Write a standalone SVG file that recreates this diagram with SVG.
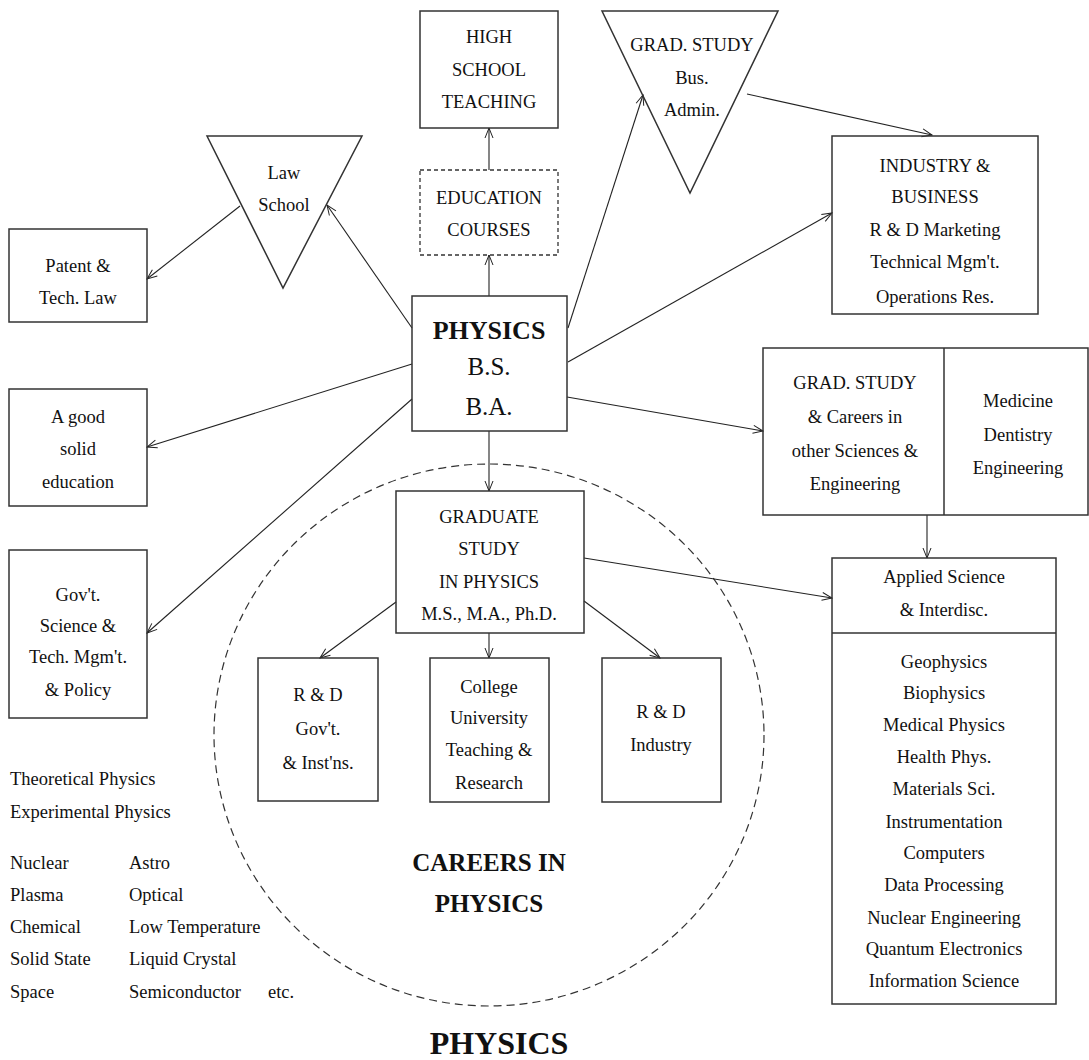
<svg xmlns="http://www.w3.org/2000/svg" width="1089" height="1060" viewBox="0 0 1089 1060">
<defs>
<marker id="arr" markerWidth="12" markerHeight="10" refX="11" refY="5" orient="auto" markerUnits="userSpaceOnUse">
<path d="M1,1 L11,5 L1,9" fill="none" stroke="#222" stroke-width="1"/>
</marker>
<style>
text{font-family:"Liberation Serif","Times New Roman",serif;font-size:18.5px;fill:#111;text-anchor:middle}
.box{fill:none;stroke:#333;stroke-width:1.5}
.dash{fill:none;stroke:#333;stroke-width:1.3;stroke-dasharray:4,3}
.circ{fill:none;stroke:#333;stroke-width:1.2;stroke-dasharray:8,5}
.conn line{stroke:#222;stroke-width:1.1;marker-end:url(#arr)}
.l{text-anchor:start}
.big{font-weight:bold;font-size:26px}
</style>
</defs>
<rect width="1089" height="1060" fill="#fff"/>

<ellipse class="circ" cx="489" cy="735" rx="275" ry="271"/>

<g class="conn" id="connectors">
<line x1="412" y1="328" x2="327" y2="205"/>
<line x1="240" y1="206" x2="147" y2="279"/>
<line x1="489" y1="296" x2="489" y2="255"/>
<line x1="489" y1="170" x2="489" y2="128"/>
<line x1="568" y1="328" x2="643" y2="95"/>
<line x1="747" y1="94" x2="932" y2="135"/>
<line x1="568" y1="362" x2="832" y2="213"/>
<line x1="567" y1="397" x2="763" y2="431"/>
<line x1="927" y1="515" x2="927" y2="558"/>
<line x1="412" y1="364" x2="147" y2="447"/>
<line x1="412" y1="399" x2="147" y2="633"/>
<line x1="489" y1="431" x2="489" y2="491"/>
<line x1="584" y1="558" x2="832" y2="598"/>
<line x1="396" y1="602" x2="320" y2="658"/>
<line x1="489" y1="633" x2="489" y2="658"/>
<line x1="584" y1="601" x2="660" y2="658"/>
</g>

<g id="law-school">
<polygon class="box" points="207,136 362,136 283,288"/>
<text x="284" y="179">Law</text>
<text x="284" y="211">School</text>
</g>

<g id="patent">
<rect class="box" x="9" y="229" width="138" height="93"/>
<text x="78" y="272">Patent &amp;</text>
<text x="78" y="304">Tech. Law</text>
</g>

<g id="high-school">
<rect class="box" x="420" y="11" width="138" height="117"/>
<text x="489" y="43">HIGH</text>
<text x="489" y="76">SCHOOL</text>
<text x="489" y="108">TEACHING</text>
</g>

<g id="education">
<rect class="dash" x="420" y="170" width="138" height="85"/>
<text x="489" y="204">EDUCATION</text>
<text x="489" y="236">COURSES</text>
</g>

<g id="grad-bus">
<polygon class="box" points="602,11 778,11 690,193"/>
<text x="692" y="51">GRAD. STUDY</text>
<text x="692" y="84">Bus.</text>
<text x="692" y="116">Admin.</text>
</g>

<g id="industry">
<rect class="box" x="832" y="136" width="206" height="178"/>
<text x="935" y="172">INDUSTRY &amp;</text>
<text x="935" y="203">BUSINESS</text>
<text x="935" y="236">R &amp; D Marketing</text>
<text x="935" y="268">Technical Mgm't.</text>
<text x="935" y="303">Operations Res.</text>
</g>

<g id="physics">
<rect class="box" x="412" y="296" width="155" height="135"/>
<text x="489" y="339" class="big">PHYSICS</text>
<text x="489" y="375" style="font-size:25px">B.S.</text>
<text x="489" y="415" style="font-size:25px">B.A.</text>
</g>

<g id="good-education">
<rect class="box" x="9" y="389" width="138" height="117"/>
<text x="78" y="423">A good</text>
<text x="78" y="455">solid</text>
<text x="78" y="488">education</text>
</g>

<g id="govt">
<rect class="box" x="9" y="550" width="138" height="168"/>
<text x="78" y="601">Gov't.</text>
<text x="78" y="632">Science &amp;</text>
<text x="78" y="663">Tech. Mgm't.</text>
<text x="78" y="696">&amp; Policy</text>
</g>

<g id="grad-other">
<rect class="box" x="763" y="348" width="325" height="167"/>
<line x1="944" y1="348" x2="944" y2="515" stroke="#333" stroke-width="1.5"/>
<text x="855" y="389">GRAD. STUDY</text>
<text x="855" y="423">&amp; Careers in</text>
<text x="855" y="457">other Sciences &amp;</text>
<text x="855" y="490">Engineering</text>
<text x="1018" y="407">Medicine</text>
<text x="1018" y="441">Dentistry</text>
<text x="1018" y="474">Engineering</text>
</g>

<g id="applied">
<rect class="box" x="832" y="558" width="224" height="446"/>
<line x1="832" y1="633" x2="1056" y2="633" stroke="#333" stroke-width="1.5"/>
<text x="944" y="583">Applied Science</text>
<text x="944" y="616">&amp; Interdisc.</text>
<text x="944" y="668">Geophysics</text>
<text x="944" y="699">Biophysics</text>
<text x="944" y="731">Medical Physics</text>
<text x="944" y="763">Health Phys.</text>
<text x="944" y="795">Materials Sci.</text>
<text x="944" y="828">Instrumentation</text>
<text x="944" y="859">Computers</text>
<text x="944" y="891">Data Processing</text>
<text x="944" y="924">Nuclear Engineering</text>
<text x="944" y="955">Quantum Electronics</text>
<text x="944" y="987">Information Science</text>
</g>

<g id="graduate">
<rect class="box" x="396" y="491" width="188" height="142"/>
<text x="489" y="523">GRADUATE</text>
<text x="489" y="555">STUDY</text>
<text x="489" y="588">IN PHYSICS</text>
<text x="489" y="620">M.S., M.A., Ph.D.</text>
</g>

<g id="rd-govt">
<rect class="box" x="258" y="658" width="120" height="143"/>
<text x="318" y="701">R &amp; D</text>
<text x="318" y="735">Gov't.</text>
<text x="318" y="769">&amp; Inst'ns.</text>
</g>

<g id="college">
<rect class="box" x="430" y="658" width="119" height="144"/>
<text x="489" y="693">College</text>
<text x="489" y="724">University</text>
<text x="489" y="756">Teaching &amp;</text>
<text x="489" y="789">Research</text>
</g>

<g id="rd-industry">
<rect class="box" x="602" y="658" width="119" height="144"/>
<text x="661" y="718">R &amp; D</text>
<text x="661" y="751">Industry</text>
</g>

<g id="fields">
<text class="l" x="10" y="785">Theoretical Physics</text>
<text class="l" x="10" y="818">Experimental Physics</text>
<text class="l" x="10" y="869">Nuclear</text>
<text class="l" x="10" y="901">Plasma</text>
<text class="l" x="10" y="933">Chemical</text>
<text class="l" x="10" y="965">Solid State</text>
<text class="l" x="10" y="998">Space</text>
<text class="l" x="129" y="869">Astro</text>
<text class="l" x="129" y="901">Optical</text>
<text class="l" x="129" y="933">Low Temperature</text>
<text class="l" x="129" y="965">Liquid Crystal</text>
<text class="l" x="129" y="998">Semiconductor</text>
<text class="l" x="268" y="998">etc.</text>
</g>

<g id="careers-label">
<text x="489" y="871" class="big" style="font-size:25px">CAREERS IN</text>
<text x="489" y="912" class="big" style="font-size:25px">PHYSICS</text>
</g>

<g id="title">
<text x="499" y="1054" style="font-weight:bold;font-size:32px">PHYSICS</text>
</g>
</svg>
